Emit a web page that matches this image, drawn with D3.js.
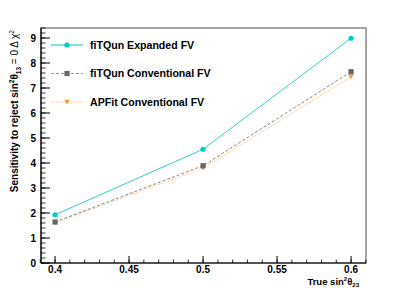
<!DOCTYPE html>
<html><head><meta charset="utf-8">
<script src="https://cdn.jsdelivr.net/npm/d3@7"></script>
<style>body{margin:0;background:#fff}svg{display:block}text{font-family:"Liberation Sans",Arial,sans-serif}</style>
</head><body>
<script>
const xs = [0.4, 0.5, 0.6];
const seriesNames = ["fiTQun Expanded FV", "fiTQun Conventional FV", "APFit Conventional FV"];
const expandedFV = [1.93, 4.55, 8.99];
const conventionalFV = [1.64, 3.89, 7.65];
const apfitFV = [1.61, 3.79, 7.45];
const xTicks = [0.4, 0.45, 0.5, 0.55, 0.6];
const yTicks = [0,1,2,3,4,5,6,7,8,9];

const W=407,H=292;
const L=41,R=366,T=28,B=263;
const svg=d3.select("body").append("svg").attr("width",W).attr("height",H);
const x=d3.scaleLinear().domain([0.3905,0.6101]).range([L,R]);
const y=d3.scaleLinear().domain([0,9.4]).range([B,T]);

svg.append("rect").attr("x",L).attr("y",T).attr("width",R-L).attr("height",B-T)
  .attr("fill","none").attr("stroke","#888").attr("stroke-width",1.5);

const xMinor=d3.range(0.39,0.6105,0.01).map(v=>+v.toFixed(3));
const yMinor=d3.range(0,9.401,0.2).map(v=>+v.toFixed(2));
const g=svg.append("g");
g.selectAll(".xm").data(xMinor).enter().append("line")
  .attr("x1",d=>x(d)).attr("x2",d=>x(d)).attr("y1",B).attr("y2",B-3.5).attr("stroke","#000").attr("stroke-width",0.8);
g.selectAll(".xM").data(xTicks).enter().append("line")
  .attr("x1",d=>x(d)).attr("x2",d=>x(d)).attr("y1",B).attr("y2",B-7).attr("stroke","#000").attr("stroke-width",1);
g.selectAll(".ym").data(yMinor).enter().append("line")
  .attr("y1",d=>y(d)).attr("y2",d=>y(d)).attr("x1",L).attr("x2",L+4.5).attr("stroke","#000").attr("stroke-width",0.8);
g.selectAll(".yM").data(yTicks).enter().append("line")
  .attr("y1",d=>y(d)).attr("y2",d=>y(d)).attr("x1",L).attr("x2",L+9).attr("stroke","#000").attr("stroke-width",1);
svg.append("line").attr("x1",L).attr("x2",R).attr("y1",B).attr("y2",B).attr("stroke","#000").attr("stroke-width",1.2);
svg.append("line").attr("x1",L).attr("x2",L).attr("y1",T).attr("y2",B).attr("stroke","#000").attr("stroke-width",1.2);

svg.selectAll(".xl").data(xTicks).enter().append("text")
  .attr("x",d=>x(d)).attr("y",273).attr("text-anchor","middle")
  .attr("font-size",10).attr("font-weight","bold").text(d=>d3.format("")(d));
svg.selectAll(".yl").data(yTicks).enter().append("text")
  .attr("x",36).attr("y",d=>y(d)+3.6).attr("text-anchor","end")
  .attr("font-size",10).attr("font-weight","bold").text(d=>d);

const xt=svg.append("text").attr("x",359).attr("y",284.5).attr("text-anchor","end").attr("font-size",9.5).attr("font-weight","bold");
xt.append("tspan").text("True sin");
xt.append("tspan").attr("dy",-4).attr("font-size",6).text("2");
xt.append("tspan").attr("dy",4).text("θ");
xt.append("tspan").attr("dy",2.5).attr("font-size",6).text("23");

const yt=svg.append("text").attr("transform","translate(18,30) rotate(-90)").attr("text-anchor","end").attr("font-size",10).attr("font-weight","bold");
yt.append("tspan").text("Sensitivity to reject sin");
yt.append("tspan").attr("dy",-4).attr("font-size",6.5).text("2");
yt.append("tspan").attr("dy",4).text("θ");
yt.append("tspan").attr("dy",3).attr("font-size",6.5).text("13");
yt.append("tspan").attr("dy",-3).attr("font-weight","normal").text(" = 0 Δ χ");
yt.append("tspan").attr("dy",-4).attr("font-size",6.5).attr("font-weight","normal").text("2");

const styles=[
  {data:expandedFV,line:"#33cccc",dash:null,marker:"circle",mcol:"#00cccc",legLine:"#88e0e0",legW:2.2},
  {data:conventionalFV,line:"#888",dash:"3,2",marker:"square",mcol:"#666",legLine:"#999",legW:1},
  {data:apfitFV,line:"#ffbb77",dash:"1.2,1.2",marker:"triangle",mcol:"#ff9933",legLine:"#ffbb77",legW:1}
];
const lineGen=d3.line().x((d,i)=>x(xs[i])).y(d=>y(d));
function marker(sel,type,cx,cy,col){
  if(type==="circle") sel.append("circle").attr("cx",cx).attr("cy",cy).attr("r",2.6).attr("fill",col);
  else if(type==="square") sel.append("rect").attr("x",cx-2.6).attr("y",cy-2.6).attr("width",5.2).attr("height",5.2).attr("fill",col);
  else sel.append("path").attr("d",`M${cx-2.8},${cy-2.2}L${cx+2.8},${cy-2.2}L${cx},${cy+2.6}Z`).attr("fill",col);
}
styles.slice().reverse().forEach(s=>{
  svg.append("path").attr("d",lineGen(s.data)).attr("fill","none").attr("stroke",s.line).attr("stroke-width",1)
    .attr("stroke-dasharray",s.dash);
});
styles.slice().reverse().forEach(s=>{
  s.data.forEach((v,i)=>marker(svg,s.marker,x(xs[i]),y(v),s.mcol));
});

const legY=[45,73.5,102];
styles.forEach((s,i)=>{
  svg.append("line").attr("x1",51).attr("x2",83).attr("y1",legY[i]).attr("y2",legY[i])
    .attr("stroke",s.legLine).attr("stroke-width",s.legW).attr("stroke-dasharray",s.dash);
  marker(svg,s.marker,67,legY[i],s.mcol);
  svg.append("text").attr("x",90).attr("y",legY[i]+3.8).attr("font-size",10.6).attr("font-weight","bold").text(seriesNames[i]);
});
</script>
</body></html>
